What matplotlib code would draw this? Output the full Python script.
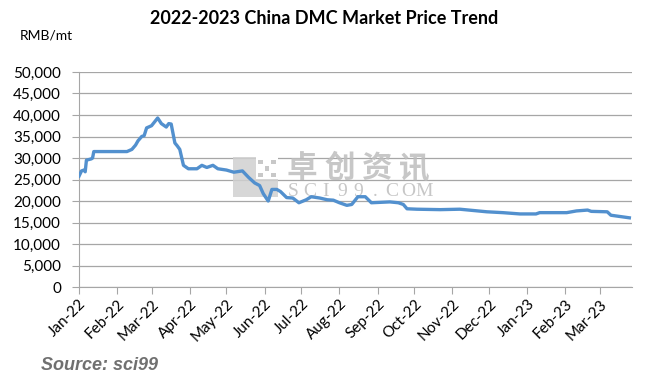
import matplotlib
matplotlib.use("Agg")
import matplotlib.pyplot as plt
import matplotlib.ticker as mticker
from matplotlib.patches import Rectangle
import pandas as pd

dates = ["2022-01-01","2022-01-03","2022-01-05","2022-01-06","2022-01-07","2022-01-11","2022-01-12","2022-01-13",
         "2022-02-09","2022-02-13","2022-02-16","2022-02-18","2022-02-21","2022-02-23","2022-02-25","2022-03-01",
         "2022-03-06","2022-03-09","2022-03-13","2022-03-15","2022-03-17","2022-03-20","2022-03-22","2022-03-24",
         "2022-03-27","2022-03-31","2022-04-07","2022-04-11","2022-04-15","2022-04-20","2022-04-24","2022-05-01",
         "2022-05-07","2022-05-14","2022-05-19","2022-05-24","2022-05-28","2022-05-31","2022-06-04","2022-06-07",
         "2022-06-11","2022-06-14","2022-06-19","2022-06-24","2022-06-29","2022-07-05","2022-07-09","2022-07-16",
         "2022-07-22","2022-07-27","2022-08-01","2022-08-07","2022-08-11","2022-08-16","2022-08-22","2022-08-27",
         "2022-09-11","2022-09-18","2022-09-22","2022-09-25","2022-10-03","2022-10-22","2022-11-07","2022-11-18",
         "2022-11-29","2022-12-12","2022-12-26","2023-01-08","2023-01-11","2023-02-02","2023-02-10","2023-02-19",
         "2023-02-22","2023-03-07","2023-03-10","2023-03-25"]
prices = [25800,27000,27200,26800,29500,29800,30000,31500,
          31500,32000,33000,34000,35000,35200,37000,37500,
          39300,38000,37200,38000,37900,33500,32800,32000,
          28300,27500,27500,28300,27800,28300,27500,27200,
          26700,27000,25500,24200,23600,21700,20000,22700,
          22700,22200,20800,20700,19600,20300,21000,20700,
          20300,20200,19600,19000,19200,21000,21000,19600,
          19800,19600,19200,18200,18100,18000,18100,17800,
          17500,17300,17000,17000,17300,17300,17700,17900,
          17600,17500,16700,16100]
month_ticks = pd.date_range("2022-01-01", "2023-03-01", freq="MS")
month_labels = [d.strftime("%b-%y") for d in month_ticks]
title = "2022-2023 China DMC Market Price Trend"
unit = "RMB/mt"
source = "Source: sci99"
wm_cn = "卓创资讯"
wm_en = "SCI99.COM"

W, H = 648, 389
x = pd.to_datetime(dates)

fig = plt.figure(figsize=(W / 100, H / 100), dpi=100)
ax = fig.add_axes([0.122, 0.262, 0.853, 0.553])
ax.plot(x, prices, color="#5290CE", lw=2.4, solid_joinstyle="round", zorder=3)
ax.set_ylim(0, 50000)
ax.set_xlim(pd.Timestamp("2022-01-01"), pd.Timestamp("2023-03-27"))
ax.yaxis.set_major_locator(mticker.MultipleLocator(5000))
ax.yaxis.set_major_formatter(mticker.FuncFormatter(lambda v, p: f"{int(v):,}"))
ax.set_xticks(month_ticks)
ax.set_xticklabels(month_labels, rotation=45, ha="right", rotation_mode="anchor")
ax.grid(axis="y", color="#A6A6A6", lw=0.9)
ax.set_axisbelow(True)
for s in ["top", "right"]:
    ax.spines[s].set_visible(False)
for s in ["left", "bottom"]:
    ax.spines[s].set_color("#A6A6A6")
ax.tick_params(axis="both", colors="#A6A6A6", labelcolor="black", labelsize=11, length=5)
ax.tick_params(axis="y", pad=8)
ax.tick_params(axis="x", pad=2)
for lab in ax.get_xticklabels() + ax.get_yticklabels():
    lab.set_fontfamily("Lato")

# watermark
ft = fig.transFigure
def fx(px): return px / W
def fy(py): return 1 - py / H
wm_col = "#BDBDBD"
ax.add_patch(Rectangle((fx(233), fy(197)), fx(278) - fx(233), fy(157) - fy(197), transform=ft,
                       facecolor="#D0D0D0", edgecolor="none", alpha=0.85, zorder=1.5, clip_on=False))
ax.add_patch(Rectangle((fx(256), fy(179)), fx(278) - fx(256), fy(157) - fy(179), transform=ft,
                       facecolor="white", edgecolor="none", zorder=1.6, clip_on=False))
for i in range(3):
    for j in range(3):
        if (i + j) % 2 == 0:
            ax.add_patch(Rectangle((fx(258 + 6.5 * i), fy(164 + 6.5 * j)), fx(4.5), fy(0) - fy(4.5),
                                   transform=ft, facecolor="#C8C8C8", edgecolor="none", zorder=1.7,
                                   clip_on=False))
for i, ch in enumerate(wm_cn):
    ax.text(fx(302 + 37.5 * i), fy(168), ch, transform=ft, ha="center", va="center", fontsize=22,
            color=wm_col, alpha=0.85, fontweight="bold",
            family=["Noto Sans CJK SC", "DejaVu Sans"], zorder=1.5)
for i, ch in enumerate(wm_en):
    ax.text(fx(293 + 16.4 * i), fy(192), ch, transform=ft, ha="center", va="center", fontsize=14,
            color=wm_col, alpha=0.85, family="Liberation Serif", zorder=1.5)

fig.text(0.5, 0.953, title, ha="center", va="center",
         fontsize=13, fontweight="bold", family="Lato")
fig.text(0.03, 0.91, unit, ha="left", va="center", fontsize=10, family="Lato")
fig.text(0.063, 0.06, source, ha="left", va="center", fontsize=13,
         fontweight="bold", fontstyle="italic", color="#707070", family="Liberation Sans")

fig.savefig("out.png", dpi=100)
